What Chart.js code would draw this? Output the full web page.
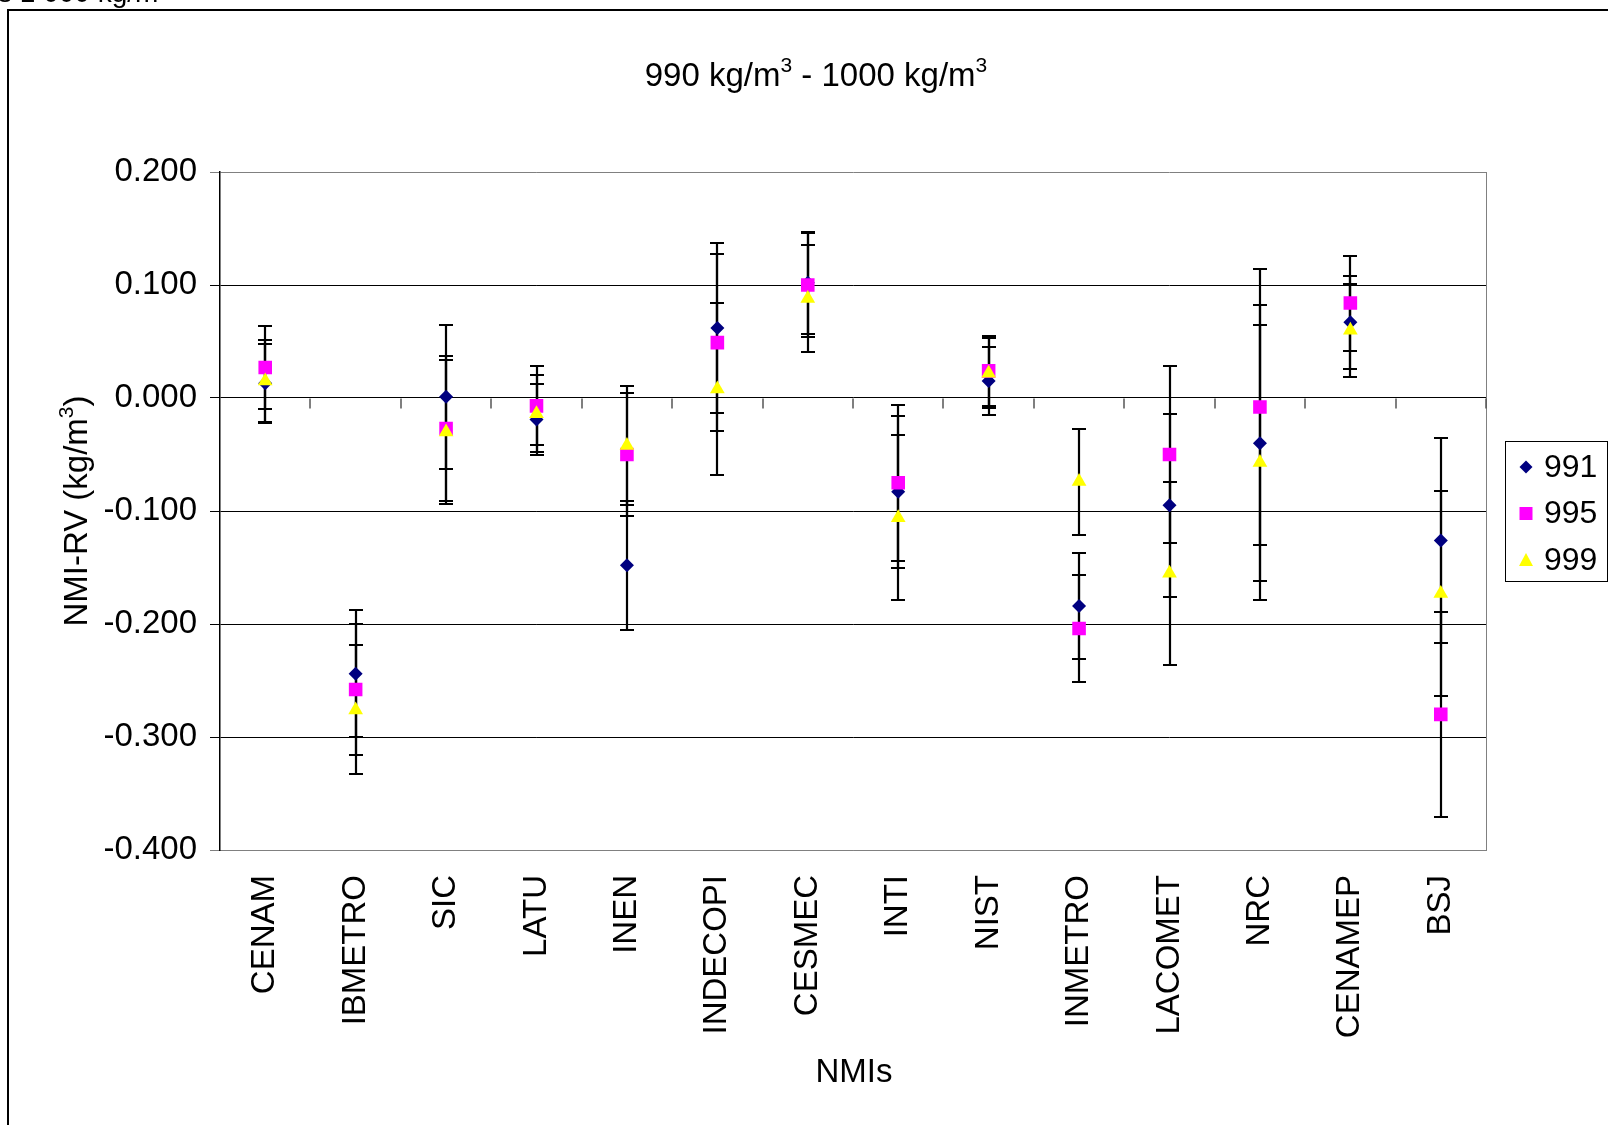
<!DOCTYPE html>
<html>
<head>
<meta charset="utf-8">
<script src="https://cdn.jsdelivr.net/npm/chart.js@4/dist/chart.umd.min.js"></script>
<style>
  body { margin: 0; background: #fff; }
  #wrap { position: relative; width: 1608px; height: 1125px; }
</style>
</head>
<body>
<div id="wrap"><canvas id="data-Chart"></canvas></div>
<script>
// categories (NMIs)
var labels = ['CENAM', 'IBMETRO', 'SIC', 'LATU', 'INEN', 'INDECOPI', 'CESMEC', 'INTI', 'NIST', 'INMETRO', 'LACOMET', 'NRC', 'CENAMEP', 'BSJ'];

// NMI-RV values (kg/m3) and their uncertainties, one pair per density
var val991 = [0.013, -0.244, 0.001, -0.019, -0.148, 0.062, 0.102, -0.083, 0.015, -0.184, -0.095, -0.040, 0.067, -0.126];
var unc991 = [0.035, 0.056, 0.064, 0.031, 0.057, 0.075, 0.045, 0.067, 0.030, 0.047, 0.081, 0.122, 0.041, 0.091];

var val995 = [0.027, -0.258, -0.027, -0.007, -0.050, 0.049, 0.100, -0.075, 0.024, -0.204, -0.050, -0.008, 0.084, -0.280];
var unc995 = [0.037, 0.058, 0.064, 0.035, 0.054, 0.078, 0.046, 0.069, 0.031, 0.047, 0.078, 0.122, 0.042, 0.091];

var val999 = [0.015, -0.276, -0.030, -0.014, -0.042, 0.008, 0.088, -0.106, 0.022, -0.074, -0.155, -0.057, 0.060, -0.173];
var unc999 = [0.036, 0.057, 0.064, 0.034, 0.053, 0.076, 0.047, 0.073, 0.031, 0.047, 0.081, 0.122, 0.041, 0.091];

var yMin = -0.4, yMax = 0.2, yStep = 0.1;

var FONT = '"Liberation Sans", Arial, sans-serif';

// text with superscript parts: [[text, isSup], ...]
function drawSupText(ctx, parts, x, y, size, align) {
    var supSize = Math.round(size * 0.63);
    var total = 0;
    parts.forEach(function(p) {
        ctx.font = (p[1] ? supSize : size) + 'px ' + FONT;
        total += ctx.measureText(p[0]).width;
    });
    var cx = align === 'center' ? x - total / 2 : x;
    ctx.textAlign = 'left';
    ctx.textBaseline = 'alphabetic';
    parts.forEach(function(p) {
        ctx.font = (p[1] ? supSize : size) + 'px ' + FONT;
        ctx.fillText(p[0], cx, p[1] ? y - size * 0.42 : y);
        cx += ctx.measureText(p[0]).width;
    });
}

function marker(ctx, style, x, y, color) {
    ctx.fillStyle = color;
    ctx.beginPath();
    if (style === 'rectRot') {
        ctx.moveTo(x, y - 6.5); ctx.lineTo(x + 6.5, y); ctx.lineTo(x, y + 6.5); ctx.lineTo(x - 6.5, y);
    } else if (style === 'rect') {
        ctx.rect(x - 6.5, y - 6.5, 13, 13);
    } else {
        ctx.moveTo(x, y - 7); ctx.lineTo(x + 7, y + 6); ctx.lineTo(x - 7, y + 6);
    }
    ctx.closePath();
    ctx.fill();
}

var errorBars = {
    id: 'errorBars',
    beforeDatasetsDraw: function(chart) {
        var ctx = chart.ctx;
        var yScale = chart.scales.y;
        var xScale = chart.scales.x;
        var area = chart.chartArea;

        // right edge of plot area
        ctx.save();
        ctx.strokeStyle = '#808080';
        ctx.lineWidth = 1;
        ctx.beginPath();
        ctx.moveTo(area.right + 0.5, area.top);
        ctx.lineTo(area.right + 0.5, area.bottom);
        ctx.stroke();

        // category tick marks on the zero line
        var y0 = Math.round(yScale.getPixelForValue(0)) + 0.5;
        var w = (xScale.right - xScale.left) / labels.length;
        ctx.strokeStyle = '#555';
        ctx.lineWidth = 1.5;
        for (var k = 1; k <= labels.length; k++) {
            var tx = Math.round(xScale.left + k * w);
            ctx.beginPath();
            ctx.moveTo(tx, y0);
            ctx.lineTo(tx, y0 + 10);
            ctx.stroke();
        }

        // error bars
        ctx.strokeStyle = '#000';
        ctx.lineWidth = 2.2;
        chart.data.datasets.forEach(function(ds, d) {
            var meta = chart.getDatasetMeta(d);
            ds.data.forEach(function(v, i) {
                var x = Math.round(meta.data[i].x);
                var top = Math.round(yScale.getPixelForValue(v + ds.unc[i]));
                var bot = Math.round(yScale.getPixelForValue(v - ds.unc[i]));
                ctx.beginPath();
                ctx.moveTo(x, top); ctx.lineTo(x, bot);
                ctx.moveTo(x - 7, top); ctx.lineTo(x + 7, top);
                ctx.moveTo(x - 7, bot); ctx.lineTo(x + 7, bot);
                ctx.stroke();
            });
        });
        ctx.restore();
    }
};

var decorations = {
    id: 'decorations',
    afterDraw: function(chart) {
        var ctx = chart.ctx;
        ctx.save();
        ctx.fillStyle = '#000';

        // outer chart border (runs off the page right and bottom)
        ctx.strokeStyle = '#000';
        ctx.lineWidth = 2;
        ctx.strokeRect(8, 10, 2000, 2000);

        // clipped caption above the chart
        ctx.font = '28px ' + FONT;
        ctx.textAlign = 'left';
        ctx.textBaseline = 'alphabetic';
        ctx.fillText('s 1 000 kg/m\u00b3', -2, 2);

        // title
        drawSupText(ctx, [['990 kg/m', 0], ['3', 1], [' - 1000 kg/m', 0], ['3', 1]], 816, 86, 33, 'center');

        // y axis title
        ctx.save();
        ctx.translate(87, 511);
        ctx.rotate(-Math.PI / 2);
        drawSupText(ctx, [['NMI-RV (kg/m', 0], ['3', 1], [')', 0]], 0, 0, 33, 'center');
        ctx.restore();

        // x axis title
        drawSupText(ctx, [['NMIs', 0]], 854, 1082, 33, 'center');

        // legend
        ctx.strokeStyle = '#000';
        ctx.lineWidth = 1;
        ctx.strokeRect(1505.5, 441.5, 102, 140);
        var items = [['991', 'rectRot', '#000080'], ['995', 'rect', '#FF00FF'], ['999', 'triangle', '#FFFF00']];
        items.forEach(function(it, n) {
            var ly = 467 + n * 46.5;
            marker(ctx, it[1], 1526, ly, it[2]);
            ctx.fillStyle = '#000';
            ctx.font = '32px ' + FONT;
            ctx.textAlign = 'left';
            ctx.textBaseline = 'middle';
            ctx.fillText(it[0], 1544, ly + 1);
        });
        ctx.restore();
    }
};

function isEdge(v) {
    return Math.abs(v - yMax) < 1e-9 || Math.abs(v - yMin) < 1e-9;
}

new Chart('data-Chart', {
    type: 'line',
    data: {
        labels: labels,
        datasets: [{
            label: '991',
            data: val991,
            unc: unc991,
            order: 3,
            showLine: false,
            pointStyle: 'rectRot',
            pointRadius: 7,
            borderWidth: 0,
            backgroundColor: '#000080',
            borderColor: '#000080'
        }, {
            label: '995',
            data: val995,
            unc: unc995,
            order: 2,
            showLine: false,
            pointStyle: 'rect',
            pointRadius: 9.6,
            borderWidth: 0,
            backgroundColor: '#FF00FF',
            borderColor: '#FF00FF'
        }, {
            label: '999',
            data: val999,
            unc: unc999,
            order: 1,
            showLine: false,
            pointStyle: 'triangle',
            pointRadius: 8.5,
            borderWidth: 0,
            backgroundColor: '#FFFF00',
            borderColor: '#FFFF00'
        }]
    },
    options: {
        responsive: true,
        maintainAspectRatio: false,
        animation: false,
        events: [],
        layout: { padding: { top: 172, right: 122, bottom: 0, left: 0 } },
        plugins: {
            legend: { display: false },
            title: { display: false },
            tooltip: { enabled: false }
        },
        scales: {
            x: {
                type: 'category',
                offset: true,
                grid: { display: false },
                border: { color: '#808080', width: 1 },
                ticks: {
                    autoSkip: false,
                    minRotation: 90,
                    maxRotation: 90,
                    padding: 17,
                    color: '#000',
                    font: { family: FONT, size: 33 }
                },
                afterFit: function(scale) { scale.height = 275; }
            },
            y: {
                min: yMin,
                max: yMax,
                ticks: {
                    stepSize: yStep,
                    padding: 13,
                    color: '#000',
                    font: { family: FONT, size: 33 },
                    callback: function(v) { return Number(v).toFixed(3); }
                },
                grid: {
                    tickLength: 10,
                    lineWidth: 1,
                    color: function(c) { return isEdge(c.tick.value) ? '#808080' : '#000'; }
                },
                border: { color: '#000', width: 1.5 },
                afterFit: function(scale) { scale.width = 220; }
            }
        }
    },
    plugins: [errorBars, decorations]
});
</script>
</body>
</html>
